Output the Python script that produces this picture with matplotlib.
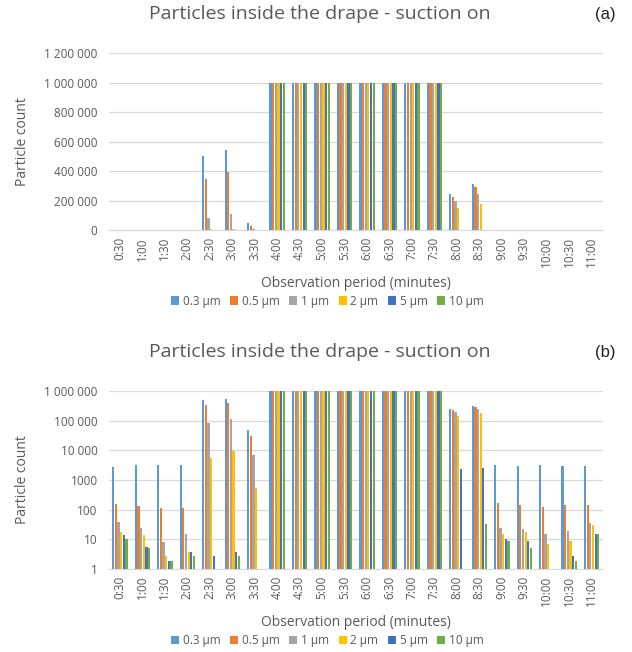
import numpy as np
import matplotlib
matplotlib.use('Agg')
import matplotlib.pyplot as plt
from matplotlib.patches import Patch

# Observation periods (minutes)
periods = ['0:30', '1:00', '1:30', '2:00', '2:30', '3:00', '3:30', '4:00',
           '4:30', '5:00', '5:30', '6:00', '6:30', '7:00', '7:30', '8:00',
           '8:30', '9:00', '9:30', '10:00', '10:30', '11:00']

sizes = ['0.3 µm', '0.5 µm', '1 µm', '2 µm', '5 µm', '10 µm']

# Particle counts per size (0 = nothing recorded), capped at 1 000 000
cap = 1000000
count_03 = [2700, 3100, 3100, 3100, 505000, 540000, 48000] + [cap] * 8 + \
           [242000, 312000, 3300, 2900, 3100, 2900, 2900]
count_05 = [155, 136, 110, 117, 348000, 395000, 31000] + [cap] * 8 + \
           [228000, 292000, 173, 144, 126, 144, 144]
count_1 = [37, 25, 8.4, 15.5, 83000, 112000, 7100] + [cap] * 8 + \
          [196000, 245000, 25, 22, 14.7, 19.6, 35]
count_2 = [18, 14, 2.8, 3.7, 5500, 9800, 540] + [cap] * 8 + \
          [148000, 178000, 15, 17, 6.8, 8.6, 31]
count_5 = [14, 5.7, 1.9, 3.7, 2.8, 3.7, 0] + [cap] * 8 + \
          [2350, 2600, 10.5, 8.8, 0, 2.8, 15]
count_10 = [10, 5, 1.9, 2.8, 0, 2.8, 0] + [cap] * 8 + \
           [0, 33, 8.6, 5, 0, 1.9, 15]

series = [count_03, count_05, count_1, count_2, count_5, count_10]
colors = ['#5B9BD5', '#ED7D31', '#A5A5A5', '#FFC000', '#4472C4', '#70AD47']

lin_ticks = [0, 200000, 400000, 600000, 800000, 1000000, 1200000]
log_ticks = [1, 10, 100, 1000, 10000, 100000, 1000000]

TXT = '#595959'
GRID = '#D9D9D9'
FONT = 'Open Sans'


def fmt(v):
    # Excel style thousands separator (space), 4 digit numbers left alone
    if v < 10000:
        return str(int(v))
    return '{:,}'.format(int(v)).replace(',', ' ')


def draw_panel(ax, log_scale):
    x = np.arange(len(periods))
    for i, vals in enumerate(series):
        ax.bar(x + (i - 2.5) * 0.118, vals, width=0.1, color=colors[i],
               zorder=3)

    if log_scale:
        ax.set_yscale('log')
        ax.set_ylim(1, 1000000)
        ax.set_yticks(log_ticks)
        ax.minorticks_off()
        ax.set_yticklabels([fmt(v) for v in log_ticks])
    else:
        ax.set_ylim(0, 1200000)
        ax.set_yticks(lin_ticks)
        ax.set_yticklabels([fmt(v) for v in lin_ticks])

    ax.set_xlim(-0.5, len(periods) - 0.5)
    ax.set_xticks(x)
    ax.set_xticklabels(periods, rotation=90, fontsize=8.5, color=TXT,
                       family=FONT)
    for lab in ax.get_yticklabels():
        lab.set_fontsize(8.5)
        lab.set_color(TXT)
        lab.set_family(FONT)

    ax.grid(axis='y', color=GRID, linewidth=0.9, zorder=0)
    for s in ['top', 'right', 'left']:
        ax.spines[s].set_visible(False)
    ax.spines['bottom'].set_color(GRID)
    ax.tick_params(axis='x', length=0, pad=5)
    ax.tick_params(axis='y', length=0, pad=8)

    ax.set_ylabel('Particle count', fontsize=10, color=TXT, family=FONT,
                  labelpad=10)
    ax.set_xlabel('Observation period (minutes)', fontsize=10, color=TXT,
                  family=FONT, labelpad=6)


fig = plt.figure(figsize=(6.32, 6.52), dpi=100)

ax_a = fig.add_axes([0.172, 0.647, 0.782, 0.2715])
ax_b = fig.add_axes([0.172, 0.1273, 0.782, 0.273])
draw_panel(ax_a, False)
draw_panel(ax_b, True)

handles = [Patch(facecolor=c, edgecolor='none') for c in colors]

for title_y, leg_y, tag in [(0.978, 0.538, '(a)'), (0.46, 0.017, '(b)')]:
    fig.text(0.506, title_y, 'Particles inside the drape - suction on',
             ha='center', va='center', fontsize=14, color=TXT, family=FONT)
    fig.text(0.957, title_y, tag, ha='center', va='center', fontsize=12,
             color='#222222', family='Liberation Sans')
    fig.legend(handles, sizes, loc='center', bbox_to_anchor=(0.518, leg_y),
               ncol=6, frameon=False, handlelength=0.7, handleheight=0.7,
               handletextpad=0.3, columnspacing=0.8,
               prop={'family': FONT, 'size': 8.5}, labelcolor=TXT)

fig.savefig('out.png', dpi=100)
